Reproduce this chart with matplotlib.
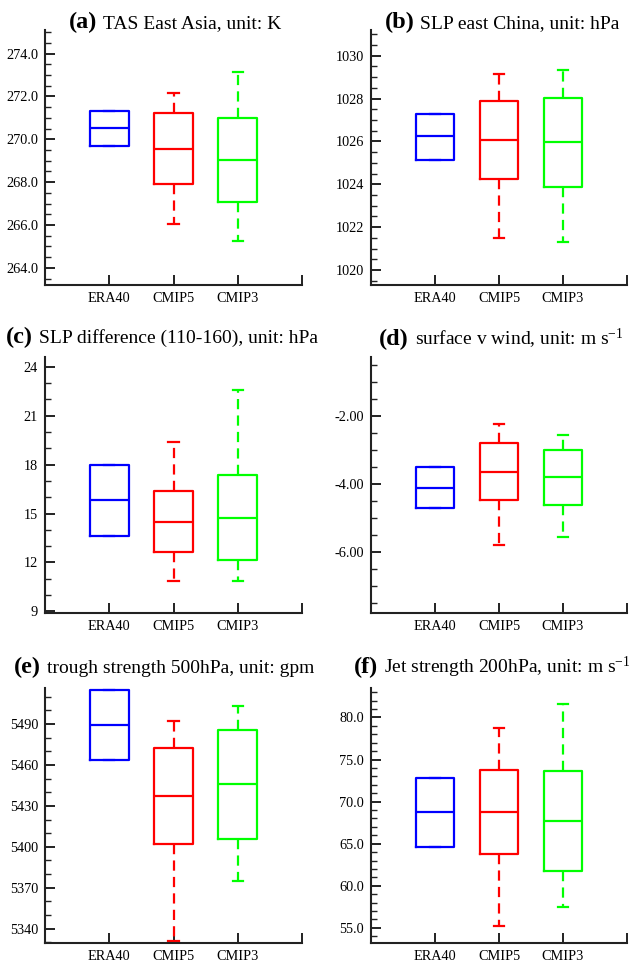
import matplotlib
matplotlib.use("Agg")
import matplotlib.pyplot as plt
from matplotlib.ticker import MultipleLocator, FormatStrFormatter

# Box statistics per model group: [whisker low, q1, median, q3, whisker high]
models = ["ERA40", "CMIP5", "CMIP3"]
colors = ["#0000ff", "#ff0000", "#00ff00"]

tas_east_asia = [
    [269.70, 269.70, 270.54, 271.33, 271.33],
    [266.05, 267.91, 269.55, 271.24, 272.15],
    [265.24, 267.07, 269.02, 271.00, 273.15],
]
slp_east_china = [
    [1025.14, 1025.14, 1026.24, 1027.30, 1027.30],
    [1021.50, 1024.27, 1026.06, 1027.88, 1029.13],
    [1021.31, 1023.89, 1025.97, 1028.03, 1029.33],
]
slp_difference = [
    [13.63, 13.63, 15.82, 17.98, 17.98],
    [10.86, 12.62, 14.51, 16.39, 19.40],
    [10.86, 12.15, 14.75, 17.39, 22.57],
]
surface_v_wind = [
    [-4.71, -4.71, -4.10, -3.49, -3.49],
    [-5.79, -4.47, -3.64, -2.79, -2.22],
    [-5.57, -4.61, -3.80, -2.99, -2.54],
]
trough_500 = [
    [5463.5, 5463.5, 5489.0, 5514.7, 5514.7],
    [5330.7, 5402.0, 5437.3, 5472.4, 5492.4],
    [5375.0, 5405.7, 5445.9, 5486.0, 5503.5],
]
jet_200 = [
    [64.64, 64.64, 68.73, 72.86, 72.86],
    [55.20, 63.73, 68.73, 73.77, 78.69],
    [57.42, 61.70, 67.70, 73.65, 81.62],
]

plt.rcParams["font.family"] = ["Liberation Serif", "DejaVu Serif"]
plt.rcParams["mathtext.fontset"] = "custom"
plt.rcParams["mathtext.rm"] = "Liberation Serif"
plt.rcParams["mathtext.it"] = "Liberation Serif:italic"
plt.rcParams["axes.unicode_minus"] = False

W, H = 630, 964
fig = plt.figure(figsize=(W / 100, H / 100), dpi=100)

# panel boxes in pixels: left, top, right, bottom
panels = [
    dict(box=(45, 30, 302, 285), tag="(a)", title="TAS East Asia, unit: K",
         data=tas_east_asia, ylim=(263.2, 275.1), major=2, minor=0.5, fmt="%.1f", tcx=175, tby=28),
    dict(box=(371, 30, 627, 285), tag="(b)", title="SLP east China, unit: hPa",
         data=slp_east_china, ylim=(1019.3, 1031.2), major=2, minor=0.5, fmt="%d", tcx=502, tby=28),
    dict(box=(45, 357, 302, 613), tag="(c)", title="SLP difference (110-160), unit: hPa",
         data=slp_difference, ylim=(8.9, 24.6), major=3, minor=1, fmt="%d", tcx=162, tby=343),
    dict(box=(371, 357, 627, 613), tag="(d)", title="surface v wind, unit: m s$^{-1}$",
         data=surface_v_wind, ylim=(-7.8, -0.25), major=2, minor=0.5, fmt="%.2f", tcx=501, tby=345),
    dict(box=(45, 688, 302, 943), tag="(e)", title="trough strength 500hPa, unit: gpm",
         data=trough_500, ylim=(5329.4, 5516.5), major=30, minor=10, fmt="%d", tcx=164, tby=673),
    dict(box=(371, 688, 627, 943), tag="(f)", title="Jet strength 200hPa, unit: m s$^{-1}$",
         data=jet_200, ylim=(53.2, 83.5), major=5, minor=1, fmt="%.1f", tcx=492, tby=673),
]


def draw_panel(p):
    """Draw one box plot panel from its stats rows"""
    l, t, r, b = p["box"]
    ax = fig.add_axes([l / W, 1 - b / H, (r - l) / W, (b - t) / H])

    stats = []
    for name, row in zip(models, p["data"]):
        lo, q1, med, q3, hi = row
        stats.append({"label": name, "whislo": lo, "q1": q1, "med": med,
                      "q3": q3, "whishi": hi, "fliers": []})

    art = ax.bxp(stats, positions=[1, 2, 3], widths=0.6, showfliers=False,
                 capwidths=0.16, manage_ticks=False)
    for i, c in enumerate(colors):
        art["boxes"][i].set(color=c, linewidth=1.6)
        art["medians"][i].set(color=c, linewidth=1.6)
        for k in (2 * i, 2 * i + 1):
            art["whiskers"][k].set(color=c, linewidth=1.6, linestyle=(0, (4.6, 2.8)))
            art["caps"][k].set(color=c, linewidth=1.6)

    ax.set_xlim(0, 4)
    ax.set_xticks([1, 2, 3, 4])
    ax.set_xticklabels(models + [""], fontsize=10.3)
    ax.set_ylim(*p["ylim"])
    ax.yaxis.set_major_locator(MultipleLocator(p["major"]))
    ax.yaxis.set_minor_locator(MultipleLocator(p["minor"]))
    ax.yaxis.set_major_formatter(FormatStrFormatter(p["fmt"]))
    ax.tick_params(axis="both", which="major", direction="in", length=7,
                   width=1.4, labelsize=10.3, color="#222222")
    ax.tick_params(axis="y", which="minor", direction="in", length=4,
                   width=1.0, color="#222222")
    ax.tick_params(axis="x", pad=5)
    ax.tick_params(axis="y", pad=5)
    for side in ("top", "right"):
        ax.spines[side].set_visible(False)
    for side in ("left", "bottom"):
        ax.spines[side].set_linewidth(1.5)
        ax.spines[side].set_color("#222222")

    # title: bold tag followed by plain text, centred as one line
    rend = fig.canvas.get_renderer()
    t1 = fig.text(0, 0, p["tag"], fontsize=17.5, fontweight="bold", va="baseline")
    t2 = fig.text(0, 0, p["title"], fontsize=14, va="baseline")
    w1 = t1.get_window_extent(rend).width
    w2 = t2.get_window_extent(rend).width
    gap = 6
    x0 = p["tcx"] - (w1 + gap + w2) / 2
    y = 1 - p["tby"] / H
    t1.set_position((x0 / W, y))
    t2.set_position(((x0 + w1 + gap) / W, y))
    return ax


for p in panels:
    draw_panel(p)

fig.savefig("out.png", dpi=100)
